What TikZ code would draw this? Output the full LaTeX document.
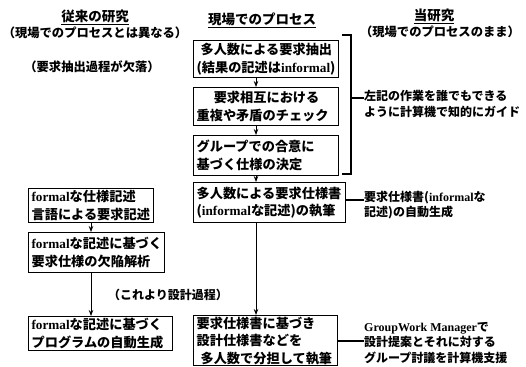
\documentclass[tikz,border=0pt]{standalone}
\usepackage{fontspec}
\setmainfont{Noto Sans CJK JP}
\newfontfamily\latf{Liberation Serif}
\newcommand\lt[1]{{\latf\bfseries #1}}
\usetikzlibrary{arrows.meta}
\begin{document}
\begin{tikzpicture}[x=1pt,y=-1pt,
  box/.style={draw, line width=1.2pt, anchor=north west, align=left,
    inner xsep=3pt, inner ysep=1pt,
    font=\bfseries\fontsize{13.2}{17.5}\selectfont},
  txt/.style={align=left, inner sep=0pt, font=\bfseries\fontsize{12}{15.5}\selectfont},
  hdr/.style={inner sep=0pt, font=\bfseries\fontsize{12.3}{15}\selectfont},
  ttl/.style={inner sep=0pt, font=\bfseries\fontsize{13.5}{15}\selectfont},
  arr/.style={line width=0.8pt, -{Stealth[length=6pt,width=4.5pt]}},
  lnk/.style={line width=1.2pt}]
\useasboundingbox (0,0) rectangle (526,366);
% headers
\node[ttl] (h1) at (95,17) {\underline{従来の研究}};
\node[hdr] (h1b) at (95,33) {（現場でのプロセスとは異なる）};
\node[hdr] (h1c) at (92,67) {（要求抽出過程が欠落）};
\node[ttl] (h2) at (262,20) {\underline{現場でのプロセス}};
\node[ttl] (h3) at (434,16) {\underline{当研究}};
\node[hdr] (h3b) at (440,32) {（現場でのプロセスのまま）};
% middle column
\node[box, text width=139pt, minimum height=37pt] (b1) at (193,40)
  {\hspace*{0.3em}多人数による要求抽出\\(結果の記述は\lt{informal})};
\node[box, text width=139pt, minimum height=38pt] (b2) at (193,87)
  {\hspace*{1.3em}要求相互における\\重複や矛盾のチェック};
\node[box, text width=139pt, minimum height=40pt] (b3) at (193,135)
  {グループでの合意に\\基づく仕様の決定};
\node[box, text width=146pt, minimum height=40pt] (b4) at (193,182)
  {多人数による要求仕様書\\(\lt{informal}な記述)の執筆};
\node[box, text width=138pt, minimum height=45pt] (b5) at (193,315)
  {要求仕様書に基づき\\設計仕様書などを\\\hspace*{0.3em}多人数で分担して執筆};
\coordinate (mx) at (256,0);
\draw[arr] (b1.south -| mx) -- (b2.north -| mx);
\draw[arr] (b2.south -| mx) -- (b3.north -| mx);
\draw[arr] (b3.south -| mx) -- (b4.north -| mx);
\draw[arr] (b4.south -| mx) -- (b5.north -| mx);
% left column
\node[box, text width=119pt, minimum height=34pt] (l1) at (28,188)
  {\lt{formal}な仕様記述\\言語による要求記述};
\node[box, text width=130pt, minimum height=40pt] (l2) at (28,232)
  {\lt{formal}な記述に基づく\\要求仕様の欠陥解析};
\node[box, text width=138pt, minimum height=34pt] (l3) at (28,316)
  {\lt{formal}な記述に基づく\\プログラムの自動生成};
\coordinate (lx) at (91,0);
\draw[arr] (l1.south -| lx) -- (l2.north -| lx);
\draw[arr] (l2.south -| lx) -- (l3.north -| lx);
\node[txt, anchor=west] (dz) at (108,295) {（これより設計過程）};
% right column
\coordinate (k1) at (342,35);
\coordinate (k2) at (351,35);
\coordinate (k3) at (351,174);
\coordinate (k4) at (342,174);
\coordinate (km) at (351,98);
\draw[lnk] (k1) -- (k2) -- (k3) -- (k4);
\node[txt, anchor=west] (t1) at (364,104) {左記の作業を誰でもできる\\ように計算機で知的にガイド};
\draw[lnk] (km) -- (km -| t1.west);
\node[txt, anchor=west] (t2) at (364,205) {要求仕様書(\lt{informal}な\\記述)の自動生成};
\draw[lnk] (b4.east |- 0,200) -- (t2.west |- 0,200);
\node[txt, anchor=west] (t3) at (364,343) {\lt{GroupWork Manager}で\\設計提案とそれに対する\\グループ討議を計算機支援};
\draw[lnk] (b5.east |- 0,341) -- (t3.west |- 0,341);
\end{tikzpicture}
\end{document}
